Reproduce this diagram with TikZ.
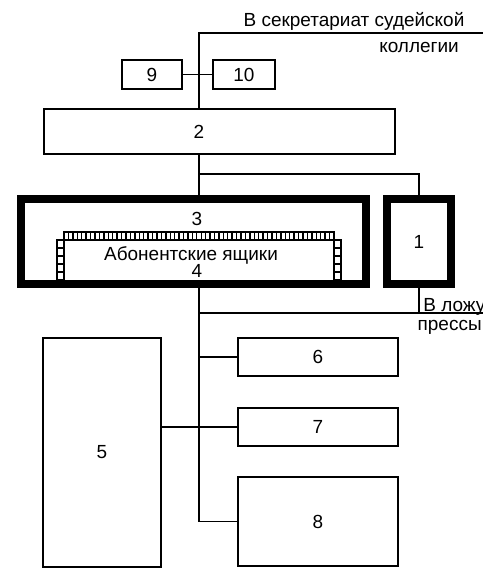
\documentclass[tikz,border=0pt]{standalone}
\usepackage{fontspec}
\setmainfont{Liberation Sans}
\usepackage{tikz}

\tikzset{
  box/.style={draw, line width=1.1pt, fill=white, inner sep=0pt},
  thickbox/.style={draw, line width=4.5pt, fill=white, inner sep=0pt},
  wire/.style={line width=1.1pt},
  cell/.style={line width=0.8pt},
  txt/.style={inner sep=0pt},
}

\begin{document}
\begin{tikzpicture}[x=0.02cm, y=-0.02cm, font=\fontsize{10.8}{13}\selectfont]
  % canvas 483 x 569 px, 1 px = 0.02cm, y runs down
  \useasboundingbox (0,0) rectangle (483,569);

  % upper part: 9, 10, 2
  \node[box, minimum width=1.2cm, minimum height=0.58cm] (box9) at (152,74.5) {9};
  \node[box, minimum width=1.24cm, minimum height=0.58cm] (box10) at (244,74.5) {10};
  \node[box, minimum width=7.02cm, minimum height=0.9cm] (box2) at (219.5,131.5) {};
  \node[txt] (lbl2) at (199,131.5) {2};

  % hall: 3 with the mail boxes 4, and 1
  \node[thickbox, minimum width=6.9cm, minimum height=1.7cm] (box3) at (193.5,241.5) {};
  \node[thickbox, minimum width=1.28cm, minimum height=1.7cm] (box1) at (419,241.5) {1};
  \foreach \i in {0,...,60}
    \draw[cell] ({64+\i*4.426},232) rectangle ++(4.426,8);
  \foreach \j in {0,...,4} {
    \draw[cell] (57,{240+\j*8}) rectangle ++(7,8);
    \draw[cell] (334,{240+\j*8}) rectangle ++(7,8);
  }
  \node[txt, anchor=base] (lbl3) at (197,225) {3};
  \node[txt, anchor=base] (abon) at (191,260) {Абонентские ящики};
  \node[txt, anchor=base] (lbl4) at (197,277) {4};

  % lower part: 5 .. 8
  \node[box, minimum width=2.36cm, minimum height=4.58cm] (box5) at (102,452.5) {5};
  \node[box, minimum width=3.2cm, minimum height=0.76cm] (box6) at (318,357.3) {6};
  \node[box, minimum width=3.2cm, minimum height=0.76cm] (box7) at (318,427.3) {7};
  \node[box, minimum width=3.2cm, minimum height=1.78cm] (box8) at (318,521.5) {8};

  % outgoing texts
  \node[txt, anchor=base] (sekr) at (354,26.5) {В секретариат судейской};
  \node[txt, anchor=base] (kolleg) at (419,52.3) {коллегии};
  \node[txt, anchor=base west] (lozhu) at (423,311.5) {В ложу};
  \node[txt, anchor=base east] (pressy) at (482,330) {прессы};

  % trunk at x=199
  \coordinate (sekrend) at (483,33);
  \coordinate (tap) at (199,33);
  \coordinate (fork) at (199,174);
  \coordinate (pressend) at (483,313);
  \draw[wire] (sekrend) -- (tap) -- (tap |- box2.north);
  \draw[wire] (box9.east) -- (box10.west);
  \draw[wire] (tap |- box2.south) -- (tap |- box3.north);
  \draw[wire] (fork) -| (box1.north);
  \draw[wire] (tap |- box3.south) |- (box8.west);
  \draw[wire] (box1.south) -- (box1.south |- pressend);
  \draw[wire] (tap |- pressend) -- (pressend);
  \draw[wire] (tap |- box6.west) -- (box6.west);
  \draw[wire] (box5.east |- box7.west) -- (box7.west);
\end{tikzpicture}
\end{document}
